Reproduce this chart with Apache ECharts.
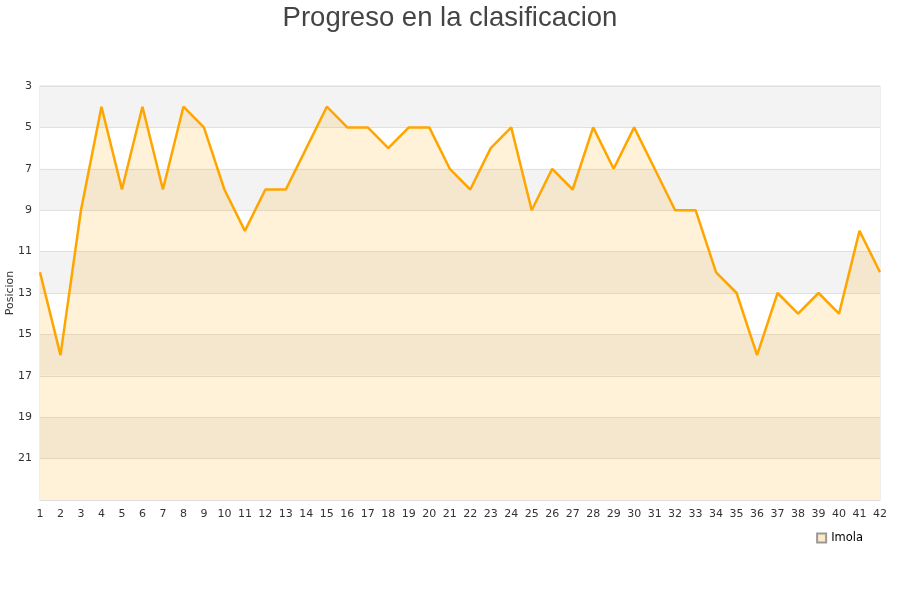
<!DOCTYPE html>
<html>
<head>
<meta charset="utf-8">
<script src="https://cdn.jsdelivr.net/npm/echarts@6/dist/echarts.min.js"></script>
<style>
  html, body { margin: 0; padding: 0; background: #fff; }
  #chart-1 { width: 900px; height: 600px; }
</style>
</head>
<body>
<div id="chart-1"></div>
<script>
const jornadas = [];
for (let i = 1; i <= 42; i++) jornadas.push(String(i));

const posiciones = [12, 16, 9, 4, 8, 4, 8, 4, 5, 8, 10, 8, 8, 6, 4, 5, 5, 6, 5, 5,
    7, 8, 6, 5, 9, 7, 8, 5, 7, 5, 7, 9, 9, 12, 13, 16, 13, 14, 13, 14, 10, 12];

const equipo = 'Imola';

const TheChart = echarts.init(document.getElementById('chart-1'));

TheChart.setOption({
    animation: false,
    textStyle: { fontFamily: 'DejaVu Sans' },
    title: {
        text: 'Progreso en la clasificacion',
        left: 'center',
        top: -1,
        textStyle: {
            fontFamily: 'Liberation Sans',
            fontSize: 27.5,
            fontWeight: 'normal',
            color: '#444'
        }
    },
    legend: {
        data: [equipo],
        right: 32,
        top: 527,
        itemWidth: 9,
        itemHeight: 9,
        icon: 'rect',
        textStyle: { fontSize: 11.5, color: '#000' }
    },
    grid: {
        left: 40,
        right: 20,
        top: 86,
        bottom: 100,
        outerBoundsMode: 'none',
        containLabel: false,
        show: true,
        borderColor: '#ddd',
        borderWidth: 1
    },
    xAxis: {
        type: 'category',
        boundaryGap: false,
        data: jornadas,
        axisLine: { lineStyle: { color: '#ddd' } },
        axisTick: { show: false },
        axisLabel: { color: '#333', fontSize: 11, interval: 0, margin: 9 }
    },
    yAxis: {
        type: 'value',
        inverse: true,
        min: 3,
        max: 23,
        interval: 2,
        name: 'Posicion',
        nameLocation: 'middle',
        nameGap: 24,
        nameMoveOverlap: false,
        nameTextStyle: { color: '#333', fontSize: 11 },
        axisLine: { show: false },
        axisTick: { show: false },
        axisLabel: { color: '#333', fontSize: 11, showMaxLabel: false, margin: 8 },
        splitLine: { lineStyle: { color: '#e0e0e0' } },
        splitArea: { show: true, areaStyle: { color: ['#f3f3f3', '#ffffff'] } }
    },
    series: [{
        name: equipo,
        type: 'line',
        data: posiciones,
        symbol: 'none',
        lineStyle: { color: '#ffa500', width: 2.5 },
        itemStyle: { color: '#fde9c4', borderColor: '#999', borderWidth: 1 },
        areaStyle: { color: 'rgba(255,165,0,0.21)', origin: 'end' }
    }]
});
</script>
</body>
</html>
